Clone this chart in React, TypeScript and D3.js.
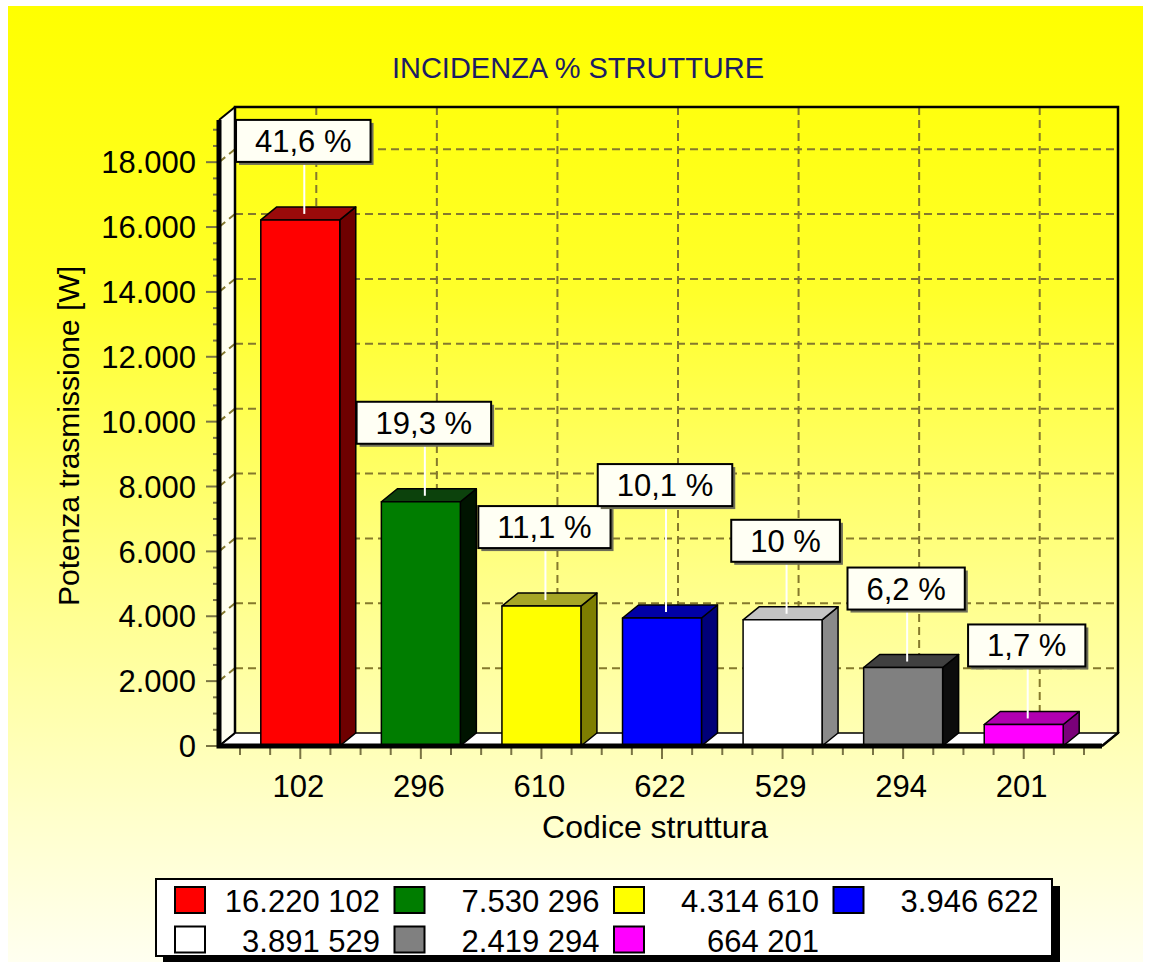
import React, { useRef, useEffect } from 'react';
import * as d3 from 'd3';

const W = 1150;
const H = 962;

// data
const codes = ['102', '296', '610', '622', '529', '294', '201'];
const values = [16220, 7530, 4314, 3946, 3891, 2419, 664];
const yTicks = [0, 2000, 4000, 6000, 8000, 10000, 12000, 14000, 16000, 18000];

const frontColors = ['#ff0000', '#007d00', '#ffff00', '#0000ff', '#ffffff', '#808080', '#ff00ff'];
const topColors = ['#9a0a0a', '#0c420c', '#a6a626', '#0000a6', '#c4c4c4', '#404040', '#b000b0'];
const sideColors = ['#6e0000', '#001400', '#7e7e00', '#000078', '#8a8a8a', '#0c0c0c', '#7a007a'];

const FONT = 'Liberation Sans, Arial, sans-serif';
const GRID = '#85792c';
const TICK = '#7a7444';

// 3D frame geometry
const AX = 219; // front y axis
const AX_END = 1102; // front floor right end
const DX = 16;
const DY = 13;

const itFormat = d3.formatLocale({ decimal: ',', thousands: '.', grouping: [3], currency: ['', ''] });
const fmtInt = itFormat.format(',d');

const App: React.FC = () => {
  const svgRef = useRef<SVGSVGElement>(null);

  useEffect(() => {
    if (!svgRef.current) return;
    const svg = d3.select(svgRef.current);
    svg.selectAll('*').remove();

    const y = d3.scaleLinear().domain([0, 19300]).range([746, 120]);
    const x = d3.scaleBand<string>().domain(codes).range([240, 1084]).paddingInner(0.345).paddingOuter(0.1725);
    const step = x.step();
    const bw = x.bandwidth();
    const xc = (c: string) => (x(c) ?? 0) + bw / 2;
    const Y0 = y(0);
    const YT = y.range()[1];

    // background gradient
    const defs = svg.append('defs');
    const grad = defs.append('linearGradient').attr('id', 'bg').attr('x1', 0).attr('y1', 0).attr('x2', 0).attr('y2', 1);
    [
      [0, '#ffff00'],
      [0.3, '#ffff2a'],
      [0.6, '#ffff88'],
      [0.85, '#ffffcc'],
      [1, '#fffff0'],
    ].forEach(([o, c]) => grad.append('stop').attr('offset', o as number).attr('stop-color', c as string));

    svg.append('rect').attr('x', 8).attr('y', 6).attr('width', 1135).attr('height', H - 6).attr('fill', 'url(#bg)');

    // title
    svg.append('text')
      .attr('x', 578).attr('y', 78)
      .attr('text-anchor', 'middle')
      .attr('font-family', FONT).attr('font-size', 29)
      .attr('fill', '#1c1c64')
      .text('INCIDENZA % STRUTTURE');

    // left wall + floor
    svg.append('polygon')
      .attr('points', [[AX, Y0], [AX + DX, Y0 - DY], [AX + DX, YT - DY], [AX, YT]].map((p) => p.join(',')).join(' '))
      .attr('fill', '#fffff0');
    svg.append('polygon')
      .attr('points', [[AX, Y0], [AX_END, Y0], [AX_END + DX, Y0 - DY], [AX + DX, Y0 - DY]].map((p) => p.join(',')).join(' '))
      .attr('fill', '#ffffff')
      .attr('stroke', '#000').attr('stroke-width', 1.5);

    // back wall grid
    const grid = svg.append('g').attr('stroke', GRID).attr('stroke-width', 2).attr('stroke-dasharray', '8,5').attr('fill', 'none');
    yTicks.filter((t) => t > 0).forEach((t) => {
      grid.append('line').attr('x1', AX + DX).attr('x2', AX_END + DX).attr('y1', y(t) - DY).attr('y2', y(t) - DY);
      grid.append('line').attr('x1', AX).attr('x2', AX + DX).attr('y1', y(t)).attr('y2', y(t) - DY).attr('stroke-dasharray', null);
    });
    codes.forEach((c) => {
      grid.append('line').attr('x1', xc(c) + DX).attr('x2', xc(c) + DX).attr('y1', YT - DY).attr('y2', Y0 - DY);
    });

    // back wall frame
    svg.append('path')
      .attr('d', `M${AX + DX},${Y0 - DY}V${YT - DY}H${AX_END + DX}V${Y0 - DY}L${AX_END},${Y0}`)
      .attr('fill', 'none').attr('stroke', '#000').attr('stroke-width', 2.5);
    svg.append('line')
      .attr('x1', AX).attr('y1', YT).attr('x2', AX + DX).attr('y2', YT - DY)
      .attr('stroke', '#000').attr('stroke-width', 2);
    svg.append('line')
      .attr('x1', AX).attr('y1', Y0).attr('x2', AX + DX).attr('y2', Y0 - DY)
      .attr('stroke', '#000').attr('stroke-width', 2);

    // bars
    const bars = svg.append('g').attr('stroke', '#000').attr('stroke-width', 1.5).attr('stroke-linejoin', 'round');
    codes.forEach((c, i) => {
      const x0 = x(c) ?? 0;
      const x1 = x0 + bw;
      const yt = y(values[i]);
      bars.append('polygon')
        .attr('points', [[x1, Y0], [x1 + DX, Y0 - DY], [x1 + DX, yt - DY], [x1, yt]].map((p) => p.join(',')).join(' '))
        .attr('fill', sideColors[i]);
      bars.append('polygon')
        .attr('points', [[x0, yt], [x0 + DX, yt - DY], [x1 + DX, yt - DY], [x1, yt]].map((p) => p.join(',')).join(' '))
        .attr('fill', topColors[i]);
      bars.append('rect')
        .attr('x', x0).attr('y', yt).attr('width', bw).attr('height', Y0 - yt)
        .attr('fill', frontColors[i]);
    });

    // percentage labels
    const total = d3.sum(values);
    const pctText = (v: number) => `${String(Math.round((v / total) * 1000) / 10).replace('.', ',')} %`;
    const labels = svg.append('g');
    let prev: { l: number; r: number; t: number; b: number } | null = null;
    codes.forEach((c, i) => {
      const cx = xc(c) + 3;
      const yt = y(values[i]);
      const txt = labels.append('text')
        .attr('font-family', FONT).attr('font-size', 31)
        .attr('text-anchor', 'middle')
        .text(pctText(values[i]));
      const tw = (txt.node() as SVGTextElement).getComputedTextLength();
      const w = tw + 38;
      const h = 42;
      let b = yt - 58;
      const l = cx - w / 2;
      const r = cx + w / 2;
      if (prev && l < prev.r && r > prev.l && b > prev.t && b - h < prev.b) b = prev.t;
      const t = b - h;
      prev = { l, r, t, b };

      labels.insert('line', 'text')
        .attr('x1', xc(c) + 4).attr('x2', xc(c) + 4)
        .attr('y1', yt - 6).attr('y2', b)
        .attr('stroke', '#ffffff').attr('stroke-width', 2);
      labels.insert('rect', 'text')
        .attr('x', l + 3).attr('y', t + 3).attr('width', w).attr('height', h)
        .attr('fill', '#6e6e58');
      labels.insert('rect', 'text')
        .attr('x', l).attr('y', t).attr('width', w).attr('height', h)
        .attr('fill', '#fffff4').attr('stroke', '#000').attr('stroke-width', 2);
      txt.attr('x', cx).attr('y', t + h / 2 + 11);
    });

    // y axis ticks
    const yAxis = svg.append('g');
    d3.range(0, 19001, 500).forEach((t) => {
      const major = t % 2000 === 0;
      yAxis.append('line')
        .attr('x1', major ? 206 : 213).attr('x2', AX + 2)
        .attr('y1', y(t)).attr('y2', y(t))
        .attr('stroke', TICK).attr('stroke-width', 2);
    });
    yTicks.forEach((t) => {
      yAxis.append('text')
        .attr('x', 196).attr('y', y(t)).attr('dy', '0.36em')
        .attr('text-anchor', 'end')
        .attr('font-family', FONT).attr('font-size', 31)
        .attr('fill', '#000')
        .text(fmtInt(t));
    });

    // x axis ticks
    const xAxis = svg.append('g');
    d3.range(0, 29).forEach((k) => {
      const px = 240 + (k * step) / 4;
      xAxis.append('line')
        .attr('x1', px).attr('x2', px)
        .attr('y1', Y0 + 2).attr('y2', Y0 + (k % 4 === 2 ? 13 : 9))
        .attr('stroke', TICK).attr('stroke-width', 2);
    });
    codes.forEach((c) => {
      xAxis.append('text')
        .attr('x', xc(c) - 2).attr('y', 797)
        .attr('text-anchor', 'middle')
        .attr('font-family', FONT).attr('font-size', 31)
        .text(c);
    });

    // thick front axis lines
    svg.append('path')
      .attr('d', `M${AX},${YT}V${Y0}H${AX_END}`)
      .attr('fill', 'none').attr('stroke', '#000').attr('stroke-width', 5);

    // axis titles
    svg.append('text')
      .attr('x', 655).attr('y', 838)
      .attr('text-anchor', 'middle')
      .attr('font-family', FONT).attr('font-size', 32)
      .text('Codice struttura');
    svg.append('text')
      .attr('transform', 'translate(79,436) rotate(-90)')
      .attr('text-anchor', 'middle')
      .attr('font-family', FONT).attr('font-size', 30)
      .text('Potenza trasmissione [W]');

    // legend
    const lg = svg.append('g');
    lg.append('rect').attr('x', 163).attr('y', 886).attr('width', 897).attr('height', 80).attr('fill', '#000');
    lg.append('rect').attr('x', 156).attr('y', 879).attr('width', 896).attr('height', 77)
      .attr('fill', '#ffffff').attr('stroke', '#000').attr('stroke-width', 2);
    codes.forEach((c, i) => {
      const col = i % 4;
      const row = Math.floor(i / 4);
      const lx = 175 + col * 219.5;
      const ly = 887 + row * 39.5;
      lg.append('rect')
        .attr('x', lx).attr('y', ly).attr('width', 30).attr('height', 26)
        .attr('fill', frontColors[i]).attr('stroke', '#000').attr('stroke-width', 2);
      lg.append('text')
        .attr('x', lx + 205).attr('y', ly + 25)
        .attr('text-anchor', 'end')
        .attr('font-family', FONT).attr('font-size', 31)
        .text(`${fmtInt(values[i])} ${c}`);
    });
  }, []);

  return (
    <svg
      ref={svgRef}
      width={W}
      height={H}
      style={{ position: 'absolute', left: 0, top: 0, background: '#ffffff' }}
    />
  );
};

export default App;
